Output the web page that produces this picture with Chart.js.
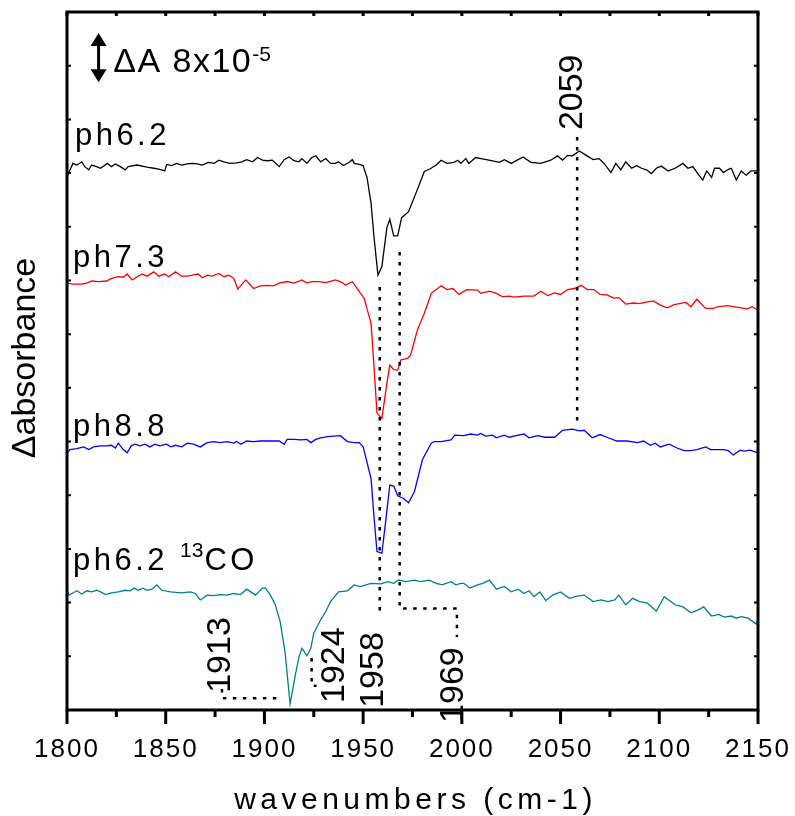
<!DOCTYPE html>
<html>
<head>
<meta charset="utf-8">
<script src="https://cdn.jsdelivr.net/npm/chart.js@4.4.1/dist/chart.umd.min.js"></script>
<style>
  html, body { margin: 0; padding: 0; background: #fff; }
  #wrap { width: 795px; height: 816px; position: relative; }
</style>
</head>
<body>
<div id="wrap"><canvas id="chart"></canvas></div>
<script>
// Difference spectra, vertically offset (y in units of one axis tick)

// --- pH 6.2 (black) ---
const wnPh62 = [1800,1803,1805,1807.5,1809,1811,1812.5,1815,1817,1820.5,1822.5,1824.5,1827,1829.5,1831,1835.5,1840.5,1844,1847,1849.5,
  1850.5,1853,1855.5,1858,1861,1863.5,1866,1868.5,1871.5,1874.5,1877,1879.5,1882.5,1886,1888.5,1891,1894,1896.5,1899,1901.5,
  1904,1907.5,1910,1912.5,1915,1917.5,1919,1921.5,1924,1926,1928.5,1931,1933.5,1936,1937.5,1940,1943,1944.5,1945.5,1948,
  1950,1952,1954,1955.5,1957.5,1959.5,1962,1963.5,1965.5,1967.5,1969.5,1973,1977,1981,1984,1987,1989.5,1992.5,1996,1998,
  1999.5,2002,2003.5,2007,2011,2015,2019,2021.5,2025,2031,2035,2040,2045,2048.5,2051,2053.5,2056,2059.5,2063,2066.5,
  2069.5,2072,2075.5,2078,2080.5,2083,2086,2088.5,2091,2093.5,2096,2098.5,2101,2104.5,2108,2112,2114.5,2117,2119.5,2122,
  2124,2126.5,2128,2130.5,2132.5,2135,2136.5,2139,2141.5,2144,2146.5,2150];
const absPh62 = [9.93,10.18,10.15,10.21,10.12,10.06,10.15,10.12,10.09,10.18,10.12,10.17,10.12,10.06,10.12,10.15,10.11,10.09,10.07,10.04,
  10.16,10.14,10.18,10.15,10.17,10.18,10.17,10.15,10.20,10.18,10.24,10.21,10.18,10.19,10.21,10.25,10.21,10.29,10.24,10.23,
  10.24,10.12,10.25,10.30,10.23,10.21,10.27,10.18,10.29,10.32,10.21,10.27,10.18,10.18,10.21,10.14,10.20,10.25,10.18,10.16,
  10.14,9.91,9.44,8.81,8.10,8.26,8.98,9.14,8.83,8.83,9.17,9.28,9.65,10.03,10.08,10.15,10.24,10.18,10.20,10.24,
  10.18,10.27,10.18,10.29,10.26,10.23,10.20,10.25,10.18,10.30,10.20,10.18,10.24,10.32,10.24,10.33,10.32,10.41,10.33,10.25,
  10.27,10.18,10.01,10.18,10.06,10.21,10.09,10.14,10.09,10.06,9.99,10.09,10.13,10.04,10.09,10.18,10.09,10.12,9.99,9.87,
  10.04,9.92,10.09,10.09,10.01,10.07,10.09,9.87,10.04,9.96,10.04,10.04];

// --- pH 7.3 (red) ---
const wnPh73 = [1800,1803,1807.5,1810,1812.5,1816,1820,1822.5,1826,1828.5,1830.5,1833,1835.5,1838,1840.5,1844,1846.5,1849.5,1851.5,1855,
  1858,1861,1863.5,1866.5,1868.5,1871,1873.5,1877,1879.5,1882,1884.5,1886.5,1890.5,1894.5,1898,1901.5,1904.5,1907.5,1911.5,1915,
  1919,1921.5,1924,1927.5,1931,1936,1939.5,1941,1944.5,1947,1950.5,1954,1955.5,1957,1959.5,1962,1963.5,1965.5,1967.5,1969,
  1972.5,1974,1977.5,1981,1984.5,1989.5,1992.5,1995.5,1998.5,2002.5,2008,2009.5,2014,2017.5,2020.5,2024,2026.5,2031.5,2036.5,2040,
  2043.5,2047,2050,2053.5,2057,2060.5,2063.5,2067,2070,2073.5,2077,2079.5,2083,2087,2089.5,2094,2097,2100.5,2104,2107.5,
  2113.5,2116,2119,2123.5,2127.5,2129.5,2134.5,2144.5,2147,2150];
const absPh73 = [7.95,7.93,7.93,7.95,7.99,7.98,7.99,8.04,8.07,8.06,8.12,8.01,8.07,8.12,8.08,8.16,8.08,8.12,8.07,8.16,
  8.08,8.08,8.10,8.12,8.05,8.10,8.08,8.13,8.07,8.10,8.04,7.84,8.01,7.85,7.90,7.91,7.90,7.95,7.98,7.95,
  8.01,7.95,7.98,7.98,7.96,8.01,7.96,7.91,7.98,7.85,7.67,7.20,6.39,5.53,5.43,6.08,6.42,6.34,6.33,6.52,
  6.55,6.61,7.08,7.39,7.76,7.90,7.83,7.85,7.74,7.83,7.82,7.76,7.80,7.76,7.70,7.71,7.69,7.71,7.71,7.80,
  7.72,7.77,7.74,7.83,7.85,7.91,7.83,7.83,7.74,7.73,7.67,7.68,7.56,7.58,7.57,7.60,7.62,7.54,7.49,7.55,
  7.59,7.51,7.65,7.48,7.48,7.51,7.53,7.47,7.51,7.45];

// --- pH 8.8 (blue) ---
const wnPh88 = [1800,1801.5,1805,1808.5,1811,1813.5,1817,1820,1822.5,1824.5,1826,1828.5,1830.5,1832.5,1834.5,1837,1839.5,1842,1844.5,1847,
  1850.5,1852.5,1855,1858,1861,1864,1867.5,1871,1874.5,1877.5,1881,1884.5,1886,1888,1891,1894.5,1898,1901.5,1904.5,1907.5,
  1910,1911.5,1915,1918.5,1921.5,1923.5,1926,1928.5,1932,1935,1938.5,1942,1945.5,1948,1950,1954,1955.5,1957,1959.5,1961.5,
  1963.5,1965.5,1967.5,1970.5,1973,1976,1980,1984.5,1986,1989.5,1994.5,1996.5,2001,2004.5,2008,2009.5,2012,2015.5,2017.5,2021.5,
  2024,2027.5,2031.5,2034,2038.5,2042,2047,2051,2056,2059.5,2062,2066,2070,2073.5,2078.5,2083.5,2089,2092,2095.5,2098,
  2100.5,2105,2109,2112.5,2116,2119,2123.5,2126,2132.5,2135,2137.5,2141,2143,2146,2150];
const absPh88 = [4.78,4.85,4.87,4.90,4.85,4.90,4.92,4.92,4.93,4.88,4.97,4.85,4.79,4.92,4.95,4.92,4.95,4.90,4.95,4.92,
  4.95,4.90,4.93,4.90,4.97,4.95,4.90,4.98,5.00,4.98,5.00,4.97,5.00,4.95,5.01,5.00,5.01,5.01,5.01,5.01,
  4.95,5.04,5.04,5.03,5.04,4.98,5.04,5.07,5.09,5.10,5.11,5.00,4.98,4.98,4.90,4.31,3.60,2.95,2.92,3.54,
  4.19,4.17,3.99,3.94,3.86,4.07,4.66,4.97,5.00,5.00,5.03,5.12,5.11,5.14,5.12,5.15,5.10,5.12,5.07,5.12,
  5.08,5.11,5.14,5.07,5.11,5.08,5.08,5.21,5.23,5.20,5.21,5.07,5.13,5.08,5.01,5.01,4.98,5.01,4.93,4.97,
  4.90,4.95,4.88,4.83,4.83,4.85,4.90,4.85,4.85,4.83,4.75,4.84,4.82,4.84,4.79];

// --- pH 6.2, 13CO (teal) ---
const wnPh62c13 = [1800,1801,1803,1805,1807.5,1810,1812.5,1815,1817,1819.5,1822.5,1826,1829.5,1832,1834,1836,1838.5,1840.5,1843,1845.5,
  1848,1852.5,1858,1862.5,1865,1867.5,1871,1874.5,1877.5,1881,1884.5,1888,1891,1895.5,1899,1900.5,1903,1905.5,1908,1910.5,
  1913,1915.5,1917.5,1919,1921.5,1923.5,1925,1928.5,1931,1933.5,1937.5,1942,1945.5,1948.5,1954,1959,1962.5,1965.5,1968,1971.5,
  1976,1979,1983.5,1987,1990,1994.5,1997,1999.5,2001,2004,2008,2010.5,2014,2017.5,2021.5,2025,2028.5,2031.5,2034,2036.5,
  2039.5,2042.5,2046,2050,2054.5,2058.5,2062,2066.5,2070.5,2074,2077.5,2079.5,2083,2086.5,2090,2094,2098.5,2102.5,2108,2112,
  2116,2119.5,2122.5,2126.5,2130,2133,2136.5,2139,2141.5,2145,2149,2150];
const absPh62c13 = [2.23,2.14,2.18,2.22,2.16,2.22,2.20,2.23,2.20,2.15,2.18,2.20,2.23,2.22,2.27,2.23,2.27,2.23,2.25,2.33,
  2.23,2.20,2.18,2.20,2.17,2.05,2.14,2.13,2.15,2.14,2.17,2.15,2.25,2.14,2.27,2.27,2.14,1.96,1.64,1.06,
  0.11,0.62,0.99,1.15,1.01,1.15,1.43,1.68,1.83,2.02,2.20,2.22,2.33,2.30,2.36,2.35,2.39,2.36,2.42,2.39,
  2.42,2.39,2.42,2.36,2.33,2.39,2.33,2.36,2.36,2.27,2.33,2.36,2.42,2.25,2.30,2.20,2.25,2.17,2.22,2.11,
  2.20,2.04,2.14,2.20,2.08,2.12,2.14,2.02,2.05,2.02,2.05,2.14,1.96,2.08,2.02,1.99,1.84,2.11,1.96,1.92,
  1.81,1.86,1.92,1.75,1.78,1.73,1.75,1.71,1.74,1.71,1.60,1.69];

// peak markers: dotted guide path [wavenumber, y] and rotated label anchor
const peakMarks = [
  { label: '2059', path: [[2058.4, 10.67], [2058.4, 5.34]], textAt: [2061, 10.80] },
  { label: '1958', path: [[1958.4, 7.88], [1958.4, 1.80]], textAt: [1959.9, 0.04] },
  { label: '1969', path: [[1968.5, 8.53], [1968.5, 1.89], [1997.5, 1.89], [1997.5, 1.36]], textAt: [2000.5, -0.24] },
  { label: '1913', path: [[1878.5, 0.39], [1878.5, 0.22], [1909, 0.22]], textAt: [1882.7, 0.32] },
  { label: '1924', path: [[1923.9, 0.97], [1923.9, 0.45], [1926.4, 0.45]], textAt: [1940.1, 0.13] }
];

const traceLabels = [
  { text: 'ph6.2', at: [1804, 10.52] },
  { text: 'ph7.3', at: [1803, 8.25] },
  { text: 'ph8.8', at: [1803, 5.10] },
  { text: 'ph6.2 ', sup: '13', tail: 'CO', at: [1803, 2.61] }
];

// scale bar: arrow span and text anchor
const scaleBar = { x: 1816, yTop: 12.61, yBottom: 11.69, textAt: [1823.4, 11.88], text: '\u0394A 8x10', sup: '-5' };

const FONT = '"Liberation Sans", Arial, sans-serif';

function toPoints(xs, ys) {
  return xs.map((x, i) => ({ x: x, y: ys[i] }));
}

const annotate = {
  id: 'annotate',
  beforeDraw(chart) {
    chart.ctx.letterSpacing = '2px';
  },
  afterDraw(chart) {
    const ctx = chart.ctx;
    const a = chart.chartArea;
    const xs = chart.scales.x, ys = chart.scales.y;
    const px = v => xs.getPixelForValue(v);
    const py = v => ys.getPixelForValue(v);

    ctx.save();
    ctx.letterSpacing = '0px';
    ctx.strokeStyle = '#000';
    ctx.fillStyle = '#000';

    // axis box
    ctx.lineWidth = 3;
    ctx.strokeRect(a.left, a.top, a.right - a.left, a.bottom - a.top);

    // x ticks: outward at bottom, inward at top
    xs.ticks.forEach(t => {
      const x = px(t.value);
      const major = t.value % 50 === 0;
      ctx.beginPath();
      ctx.moveTo(x, a.bottom);
      ctx.lineTo(x, a.bottom + (major ? 14 : 7));
      ctx.moveTo(x, a.top);
      ctx.lineTo(x, a.top + 4);
      ctx.stroke();
    });
    // y ticks, left and right, inward
    ctx.lineWidth = 2;
    for (let v = ys.min; v <= ys.max; v += 1) {
      const y = py(v);
      ctx.beginPath();
      ctx.moveTo(a.left, y); ctx.lineTo(a.left + 4, y);
      ctx.moveTo(a.right, y); ctx.lineTo(a.right - 4, y);
      ctx.stroke();
    }

    // dotted peak guides
    ctx.lineWidth = 2.5;
    ctx.setLineDash([3.5, 6.5]);
    peakMarks.forEach(m => {
      ctx.beginPath();
      m.path.forEach((p, i) => {
        if (i === 0) ctx.moveTo(px(p[0]), py(p[1]));
        else ctx.lineTo(px(p[0]), py(p[1]));
      });
      ctx.stroke();
    });
    ctx.setLineDash([]);

    // rotated peak labels
    ctx.font = '34px ' + FONT;
    ctx.textAlign = 'left';
    ctx.textBaseline = 'alphabetic';
    peakMarks.forEach(m => {
      ctx.save();
      ctx.translate(px(m.textAt[0]), py(m.textAt[1]));
      ctx.rotate(-Math.PI / 2);
      ctx.fillText(m.label, 0, 0);
      ctx.restore();
    });

    // trace labels
    traceLabels.forEach(l => {
      let x = px(l.at[0]);
      const y = py(l.at[1]);
      ctx.font = '31px ' + FONT;
      ctx.letterSpacing = '3.5px';
      ctx.fillText(l.text, x, y);
      x += ctx.measureText(l.text).width;
      if (l.sup) {
        ctx.font = '21px ' + FONT;
        ctx.letterSpacing = '0px';
        ctx.fillText(l.sup, x, y - 13);
        x += ctx.measureText(l.sup).width + 1;
        ctx.font = '31px ' + FONT;
        ctx.letterSpacing = '3.5px';
        ctx.fillText(l.tail, x, y);
      }
    });

    // scale bar
    const bx = px(scaleBar.x), bt = py(scaleBar.yTop), bb = py(scaleBar.yBottom);
    ctx.lineWidth = 3;
    ctx.beginPath();
    ctx.moveTo(bx, bt + 8); ctx.lineTo(bx, bb - 8);
    ctx.stroke();
    ctx.beginPath();
    ctx.moveTo(bx, bt); ctx.lineTo(bx - 8, bt + 13); ctx.lineTo(bx + 8, bt + 13); ctx.closePath();
    ctx.moveTo(bx, bb); ctx.lineTo(bx - 8, bb - 13); ctx.lineTo(bx + 8, bb - 13); ctx.closePath();
    ctx.fill();
    let sx = px(scaleBar.textAt[0]);
    const sy = py(scaleBar.textAt[1]);
    ctx.font = '34px ' + FONT;
    ctx.letterSpacing = '1.5px';
    ctx.fillText(scaleBar.text, sx, sy);
    sx += ctx.measureText(scaleBar.text).width;
    ctx.font = '21px ' + FONT;
    ctx.letterSpacing = '0px';
    ctx.fillText(scaleBar.sup, sx, sy - 11);

    // axis titles
    ctx.font = '30px ' + FONT;
    ctx.letterSpacing = '4.5px';
    ctx.textAlign = 'center';
    ctx.fillText('wavenumbers (cm-1)', (a.left + a.right) / 2 + 3, 809);

    ctx.save();
    ctx.font = '34px ' + FONT;
    ctx.letterSpacing = '0px';
    ctx.translate(35, (a.top + a.bottom) / 2 - 3);
    ctx.rotate(-Math.PI / 2);
    ctx.fillText('\u0394absorbance', 0, 0);
    ctx.restore();

    ctx.restore();
  }
};

const lineSet = (data, color) => ({
  data: data,
  borderColor: color,
  borderWidth: 1.3,
  pointRadius: 0,
  tension: 0,
  fill: false
});

new Chart(document.getElementById('chart'), {
  type: 'line',
  data: {
    datasets: [
      lineSet(toPoints(wnPh62, absPh62), '#000000'),
      lineSet(toPoints(wnPh73, absPh73), '#ff0000'),
      lineSet(toPoints(wnPh88, absPh88), '#0000ff'),
      lineSet(toPoints(wnPh62c13, absPh62c13), '#008080')
    ]
  },
  options: {
    responsive: true,
    maintainAspectRatio: false,
    animation: false,
    layout: { padding: { left: 67, right: 37, top: 12, bottom: 54 } },
    plugins: { legend: { display: false }, tooltip: { enabled: false } },
    scales: {
      x: {
        type: 'linear',
        min: 1800,
        max: 2150,
        border: { display: false },
        grid: { display: false, drawTicks: false },
        ticks: {
          stepSize: 25,
          autoSkip: false,
          maxRotation: 0,
          padding: 24,
          color: '#000',
          font: { family: FONT, size: 26 },
          callback: v => (v % 50 === 0 ? String(v) : '')
        },
        afterFit: s => {
          s.height = 52;
          s.paddingLeft = 0;
          s.paddingRight = 0;
        }
      },
      y: { display: false, min: 0, max: 13 }
    }
  },
  plugins: [annotate]
});
</script>
</body>
</html>
